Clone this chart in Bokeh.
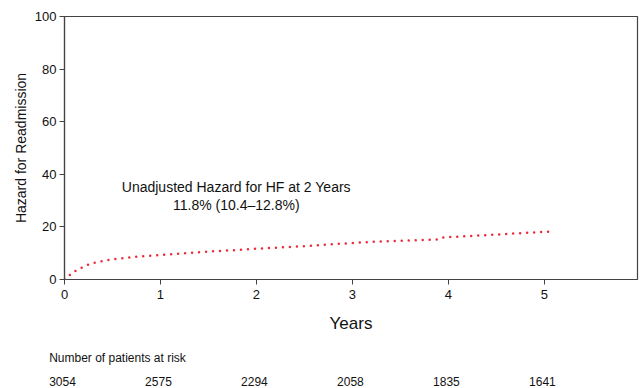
from bokeh.plotting import figure
from bokeh.models import Range1d, Label, FixedTicker, ColumnDataSource
from bokeh.core.properties import value
from bokeh.embed import file_html
from bokeh.resources import INLINE

# Data
years = [0, 0.05, 0.08, 0.15, 0.23, 0.3, 0.38, 0.46, 0.53, 0.62, 0.7, 0.8, 1.0, 1.25, 1.5, 1.75,
         2.0, 2.25, 2.5, 2.75, 3.0, 3.3, 3.6, 3.9, 3.95, 4.25, 4.5, 4.75, 5.05]
hazard = [0, 1.5, 2.6, 4.0, 5.4, 6.3, 6.9, 7.4, 7.8, 8.1, 8.5, 8.8, 9.3, 10.0, 10.6, 11.1,
          11.7, 12.2, 12.7, 13.3, 13.9, 14.5, 14.8, 15.2, 16.0, 16.6, 17.1, 17.6, 18.2]
risk_years = [0, 1, 2, 3, 4, 5]
at_risk = ["3054", "2575", "2294", "2058", "1835", "1641"]
y_ticks = [0, 20, 40, 60, 80, 100]
x_ticks = [0, 1, 2, 3, 4, 5]

FONT = "Liberation Sans"
TXT = "#111111"
X_END = 5.97

p = figure(width=640, height=335, output_backend="svg", toolbar_location=None,
           x_range=Range1d(0, X_END), y_range=Range1d(0, 100),
           min_border_left=64, min_border_right=3, min_border_top=16, min_border_bottom=54)
p.background_fill_color = "white"
p.border_fill_color = "white"
p.outline_line_color = "#444444"
p.outline_line_width = 1.2
p.grid.visible = False

for ax in (p.xaxis[0], p.yaxis[0]):
    ax.axis_line_color = "#444444"
    ax.axis_line_width = 1.2
    ax.major_tick_line_color = "#444444"
    ax.major_tick_out = 5
    ax.major_tick_in = 0
    ax.minor_tick_line_color = None
    ax.major_label_text_font = FONT
    ax.major_label_text_font_size = "13px"
    ax.major_label_text_color = TXT
    ax.axis_label_text_font = FONT
    ax.axis_label_text_font_style = "normal"
    ax.axis_label_text_color = TXT

p.yaxis.ticker = FixedTicker(ticks=y_ticks)
p.xaxis.ticker = FixedTicker(ticks=x_ticks)
p.yaxis.axis_label = "Hazard for Readmission"
p.yaxis.axis_label_text_font_size = "14px"
p.yaxis.axis_label_standoff = 3
p.yaxis.major_label_standoff = 3
p.xaxis.axis_label = "Years"
p.xaxis.axis_label_text_font_size = "17px"
p.xaxis.axis_label_standoff = 12
p.xaxis.major_label_standoff = 5

p.line(years, hazard, line_color="#ec2a3a", line_width=2.5, line_dash="0 7", line_cap="round")

p.add_layout(Label(x=1.79, y=35.0, text="Unadjusted Hazard for HF at 2 Years",
                   text_align="center", text_baseline="middle", text_font=FONT,
                   text_font_size="14px", text_color=TXT))
p.add_layout(Label(x=1.79, y=28.5, text="11.8% (10.4\u201312.8%)",
                   text_align="center", text_baseline="middle", text_font=FONT,
                   text_font_size="14px", text_color=TXT))

# Risk table below (same horizontal scale as the main plot, year 0 at 64 px)
px_per_year = (640 - 64 - 3) / X_END
q = figure(width=640, height=53, output_backend="svg", toolbar_location=None,
           x_range=Range1d(-64 / px_per_year, X_END), y_range=Range1d(53, 0),
           min_border_left=0, min_border_right=3, min_border_top=0, min_border_bottom=0)
q.axis.visible = False
q.grid.visible = False
q.outline_line_color = None
q.background_fill_color = "white"
q.border_fill_color = "white"

q.text(x=[-0.16], y=[22], text=["Number of patients at risk"], text_align="left",
       text_baseline="middle", text_font=value(FONT), text_font_size="12px", text_color=TXT)
src = ColumnDataSource(dict(x=[yr - 0.16 for yr in risk_years], y=[46] * len(risk_years), t=at_risk))
q.text(x="x", y="y", text="t", source=src, text_align="left", text_baseline="middle",
       text_font=value(FONT), text_font_size="12px", text_color=TXT)

open("out.html", "w").write(file_html([p, q], INLINE))
